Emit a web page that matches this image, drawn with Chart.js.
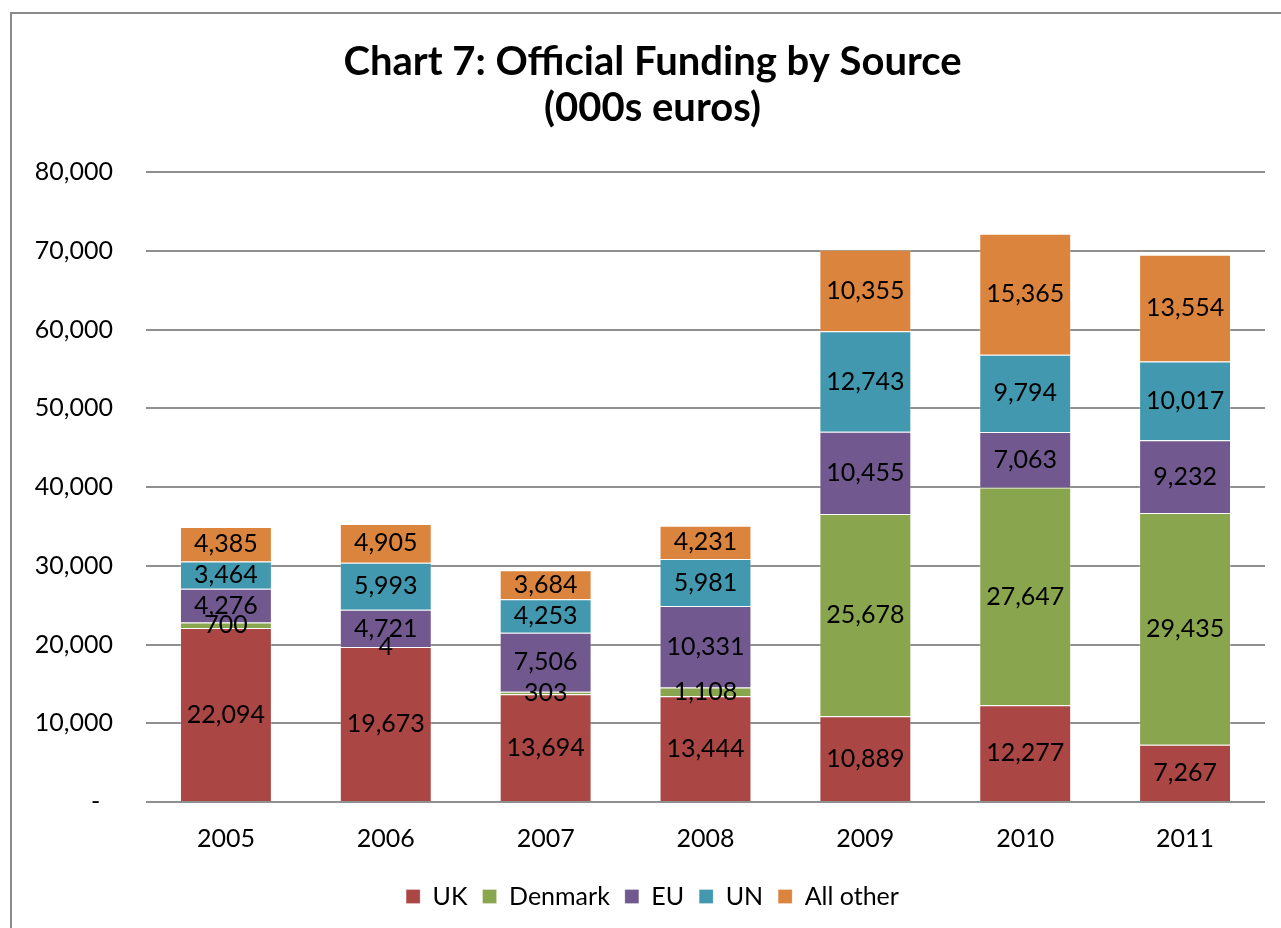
<!DOCTYPE html>
<html>
<head>
<meta charset="utf-8">
<script src="https://cdn.jsdelivr.net/npm/chart.js@4.4.1/dist/chart.umd.min.js"></script>
<style>
    html, body { margin: 0; padding: 0; background: #fff; overflow: hidden; }
    #frame {
        position: absolute; left: 10px; top: 12px;
        width: 1320px; height: 960px;
        border: 2px solid #8a8a8a; box-sizing: border-box;
    }
    #wrap { position: absolute; left: 0; top: 0; }
</style>
</head>
<body>
<div id="frame"></div>
<div id="wrap"><canvas id="chart" width="1305" height="928"></canvas></div>
<script>
const years = ['2005', '2006', '2007', '2008', '2009', '2010', '2011'];
const uk = [22094, 19673, 13694, 13444, 10889, 12277, 7267];
const denmark = [700, 4, 303, 1108, 25678, 27647, 29435];
const eu = [4276, 4721, 7506, 10331, 10455, 7063, 9232];
const un = [3464, 5993, 4253, 5981, 12743, 9794, 10017];
const allOther = [4385, 4905, 3684, 4231, 10355, 15365, 13554];

const FONT = 'Lato, "Open Sans", sans-serif';

// draw the value in the middle of every segment
const segmentLabels = {
    id: 'segmentLabels',
    afterDatasetsDraw(chart) {
        const ctx = chart.ctx;
        ctx.save();
        ctx.font = '25px ' + FONT;
        ctx.fillStyle = '#000';
        ctx.textAlign = 'center';
        ctx.textBaseline = 'middle';
        chart.data.datasets.forEach((ds, i) => {
            const meta = chart.getDatasetMeta(i);
            meta.data.forEach((bar, j) => {
                const { x, y, base } = bar.getProps(['x', 'y', 'base'], true);
                ctx.fillText(ds.data[j].toLocaleString('en-US'), x, (y + base) / 2);
            });
        });
        ctx.restore();
    }
};

new Chart(document.getElementById('chart'), {
    type: 'bar',
    data: {
        labels: years,
        datasets: [
            { label: 'UK', data: uk, backgroundColor: '#AA4643' },
            { label: 'Denmark', data: denmark, backgroundColor: '#89A54E' },
            { label: 'EU', data: eu, backgroundColor: '#71588F' },
            { label: 'UN', data: un, backgroundColor: '#4198AF' },
            { label: 'All other', data: allOther, backgroundColor: '#DB843D' }
        ].map(d => ({ ...d, borderWidth: 1, borderColor: 'rgba(255,255,255,0.25)', barPercentage: 0.575, categoryPercentage: 1 }))
    },
    options: {
        responsive: false,
        animation: false,
        devicePixelRatio: 1,
        layout: { padding: { left: 0, right: 0, top: 0, bottom: 9 } },
        plugins: {
            title: {
                display: true,
                text: ['Chart 7: Official Funding by Source', '(000s euros)'],
                font: { family: FONT, size: 40, weight: 'bold', lineHeight: 1.15 },
                color: '#000',
                padding: { top: 39, bottom: 41 }
            },
            legend: {
                position: 'bottom',
                labels: {
                    font: { family: FONT, size: 25 },
                    color: '#000',
                    boxWidth: 14, boxHeight: 14,
                    padding: 15
                }
            },
            tooltip: { enabled: false }
        },
        scales: {
            x: {
                stacked: true,
                afterFit(scale) { scale.height = 67; },
                grid: { display: false, drawTicks: false },
                border: { display: false },
                ticks: { font: { family: FONT, size: 25 }, color: '#000', padding: 22 }
            },
            y: {
                stacked: true,
                min: 0, max: 80000,
                afterFit(scale) { scale.width = 146; },
                grid: { color: '#8f8f8f', lineWidth: 2, drawTicks: false },
                border: { display: false },
                ticks: {
                    stepSize: 10000,
                    padding: 33,
                    font: { family: FONT, size: 25 },
                    color: '#000',
                    callback: v => v === 0 ? '-  ' : v.toLocaleString('en-US')
                }
            },
            // empty right axis, only keeps the plot clear of the right edge
            yRight: {
                position: 'right',
                afterFit(scale) { scale.width = 40; },
                grid: { display: false, drawTicks: false },
                border: { display: false },
                ticks: { display: false }
            }
        }
    },
    plugins: [segmentLabels]
});
</script>
</body>
</html>
